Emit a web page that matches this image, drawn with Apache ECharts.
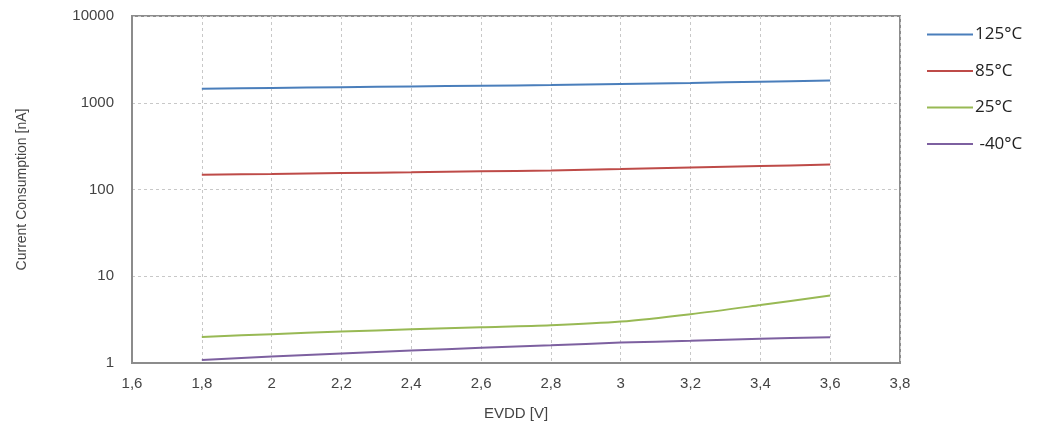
<!DOCTYPE html>
<html>
<head>
<meta charset="utf-8">
<script src="https://cdn.jsdelivr.net/npm/echarts@6/dist/echarts.min.js"></script>
<style>html,body{margin:0;padding:0;background:#fff}#c{width:1049px;height:428px}</style>
</head>
<body>
<div id="c"></div>
<script>
var voltages = [1.8, 2.0, 2.2, 2.4, 2.6, 2.8, 3.0, 3.2, 3.4, 3.6];
var t125 = [1450, 1480, 1510, 1540, 1570, 1600, 1640, 1690, 1750, 1800];
var t85 = [148, 151, 155, 158, 162, 166, 172, 179, 186, 194];
var t25 = [2.0, 2.15, 2.3, 2.45, 2.58, 2.72, 3.0, 3.65, 4.65, 6.0];
var tm40 = [1.08, 1.19, 1.29, 1.39, 1.5, 1.6, 1.72, 1.8, 1.9, 1.98];
var seriesNames = ['125°C', '85°C', '25°C', '-40°C'];
var seriesColors = ['#4a7ebb', '#be4b48', '#98b954', '#7d60a0'];

function pairs(ys) { return voltages.map(function (v, i) { return [v, ys[i]]; }); }
var allData = [t125, t85, t25, tm40];

var chart = echarts.init(document.getElementById('c'));
chart.setOption({
  animation: false,
  grid: { left: 132, top: 16, right: 149, bottom: 65, show: true, borderColor: '#8c8c8c', borderWidth: 2 },
  legend: {
    orient: 'vertical', left: 922, top: 21,
    itemWidth: 46, itemHeight: 2, itemGap: 19.5,
    icon: 'rect',
    textStyle: { fontFamily: 'Open Sans', fontSize: 17, color: '#222', padding: [0, 0, 0, -3] },
    formatter: function (n) { return n.charAt(0) === '-' ? ' ' + n : n; },
    data: seriesNames
  },
  xAxis: {
    type: 'value', min: 1.6, max: 3.8, interval: 0.2,
    name: 'EVDD [V]', nameLocation: 'middle', nameGap: 43,
    nameTextStyle: { fontFamily: 'Liberation Sans', fontSize: 15, color: '#444' },
    axisLine: { show: true, lineStyle: { color: '#8c8c8c', width: 2 } },
    axisTick: { show: false },
    axisLabel: { fontFamily: 'Liberation Sans', fontSize: 15, color: '#444', margin: 13,
      formatter: function (v) { return String(Math.round(v * 10) / 10).replace('.', ','); } },
    splitLine: { show: true, lineStyle: { color: '#c8c8c8', type: [3, 3], width: 1 } }
  },
  yAxis: {
    type: 'log', logBase: 10, min: 1, max: 10000,
    name: 'Current Consumption [nA]', nameLocation: 'middle', nameGap: 103, nameRotate: 90,
    nameTextStyle: { fontFamily: 'Liberation Sans', fontSize: 14, color: '#444' },
    axisLine: { show: true, lineStyle: { color: '#8c8c8c', width: 2 } },
    axisTick: { show: false },
    axisLabel: { fontFamily: 'Liberation Sans', fontSize: 15, color: '#444', margin: 18,
      formatter: function (v) { return String(Math.round(v)); } },
    splitLine: { show: true, lineStyle: { color: '#c8c8c8', type: [3, 3], width: 1 } }
  },
  series: seriesNames.map(function (n, i) {
    return {
      name: n, type: 'line', data: pairs(allData[i]), smooth: 0.3,
      symbol: 'none', lineStyle: { color: seriesColors[i], width: 2 },
      itemStyle: { color: seriesColors[i] }
    };
  })
});
</script>
</body>
</html>
